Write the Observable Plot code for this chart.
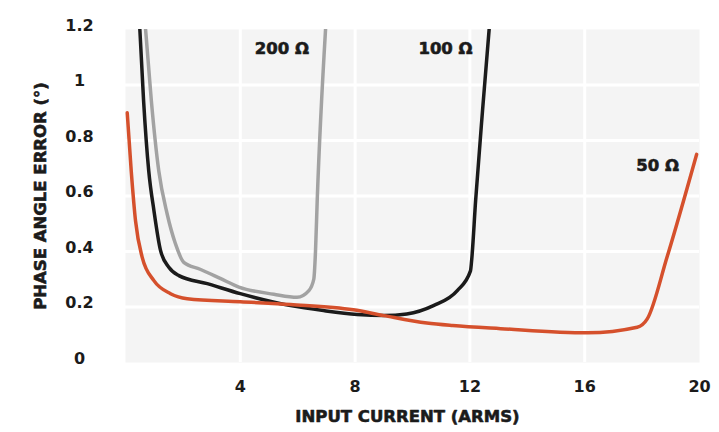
<!DOCTYPE html>
<html>
<head>
<meta charset="utf-8">
<script src="https://cdn.jsdelivr.net/npm/d3@7"></script>
<script src="https://cdn.jsdelivr.net/npm/@observablehq/plot@0.6"></script>
<style>
  html, body { margin: 0; padding: 0; background: #fff; }
  svg { display: block; }
</style>
</head>
<body>
<div id="chart"></div>
<script>
// ---- data ----
const series = ["50 Ω", "100 Ω", "200 Ω"];

const x50 = [0.06, 0.2, 0.35, 0.58, 0.99, 1.57, 2.15, 4.0, 5.75, 7.94, 9.0, 10.5, 11.4, 13.07, 16.1, 17.83, 18.18, 18.87, 19.9];
const y50 = [0.90, 0.69, 0.51, 0.38, 0.295, 0.248, 0.23, 0.219, 0.209, 0.19, 0.169, 0.142, 0.133, 0.122, 0.107, 0.127, 0.157, 0.38, 0.75];

const x100 = [0.5, 0.63, 0.81, 0.99, 1.22, 1.51, 1.86, 2.85, 4.0, 5.75, 6.9, 8.07, 9.0, 9.8, 10.73, 11.56, 12.02, 12.06, 12.2, 12.44, 12.67];
const y100 = [1.2, 0.944, 0.69, 0.548, 0.404, 0.343, 0.313, 0.284, 0.248, 0.205, 0.187, 0.173, 0.169, 0.175, 0.205, 0.259, 0.33, 0.367, 0.584, 0.908, 1.2];

const x200 = [0.7, 0.9, 1.16, 1.45, 1.74, 2.03, 2.6, 3.3, 3.95, 5.17, 5.98, 6.39, 6.56, 6.62, 6.68, 6.97];
const y200 = [1.2, 0.944, 0.69, 0.536, 0.428, 0.361, 0.336, 0.303, 0.272, 0.246, 0.235, 0.259, 0.30, 0.40, 0.584, 1.2];

const xTicks = [4, 8, 12, 16, 20];
const yTicks = [0, 0.2, 0.4, 0.6, 0.8, 1, 1.2];
const xGrid = [4, 8, 12, 16];
const yGrid = [0.2, 0.4, 0.6, 0.8, 1.0];

const labelText = ["200 Ω", "100 Ω", "50 Ω"];
const labelX = [5.45, 11.15, 18.54];
const labelY = [1.13, 1.13, 0.71];

const xTitle = "INPUT CURRENT (ARMS)";
const yTitle = "PHASE ANGLE ERROR (°)";

const colors = {"50 Ω": "#d5502c", "100 Ω": "#1b1b1b", "200 Ω": "#a2a2a2"};

// ---- build tables ----
const toRows = (name, xs, ys) => xs.map((x, i) => ({series: name, x, y: ys[i]}));
const rows = [
  ...toRows("200 Ω", x200, y200),
  ...toRows("100 Ω", x100, y100),
  ...toRows("50 Ω", x50, y50)
];
const labels = labelText.map((t, i) => ({t, x: labelX[i], y: labelY[i]}));

const font = "'DejaVu Sans', sans-serif";
const ink = "#1b1b1b";
const heavy = {fontWeight: "bold", fill: ink, stroke: ink, strokeWidth: 0.6};

const chart = Plot.plot({
  width: 719,
  height: 432,
  marginLeft: 125,
  marginRight: 20,
  marginTop: 29,
  marginBottom: 70,
  style: {fontFamily: font, fontWeight: "bold", fontSize: "15px", color: ink, background: "#fff"},
  x: {domain: [0, 20], ticks: xTicks},
  y: {domain: [0, 1.2], ticks: yTicks},
  marks: [
    Plot.frame({fill: "#f4f4f4", stroke: null}),
    Plot.gridX(xGrid, {stroke: "#fff", strokeOpacity: 1, strokeWidth: 3}),
    Plot.gridY(yGrid, {stroke: "#fff", strokeOpacity: 1, strokeWidth: 3}),
    Plot.axisX({ticks: xTicks, tickSize: 0, tickPadding: 18, label: null, fontSize: 16, fontWeight: "bold", stroke: ink, strokeWidth: 0.6}),
    Plot.axisY({ticks: yTicks, tickSize: 0, tickPadding: 46, textAnchor: "middle", dy: -4, label: null, fontSize: 16, fontWeight: "bold", stroke: ink, strokeWidth: 0.6, tickFormat: d => String(d)}),
    Plot.line(rows, {
      x: "x", y: "y", z: "series",
      stroke: d => colors[d.series],
      strokeWidth: 3.5,
      curve: "monotone-x",
      clip: true
    }),
    Plot.text(labels, {x: "x", y: "y", text: "t", fontSize: 16.5, ...heavy}),
    Plot.text([xTitle], {frameAnchor: "bottom", textAnchor: "middle", dy: 59, dx: -5, text: d => d, fontSize: 16.5, ...heavy}),
    Plot.text([yTitle], {frameAnchor: "left", textAnchor: "middle", dx: -85, text: d => d, rotate: -90, fontSize: 16.5, ...heavy})
  ]
});

document.getElementById("chart").appendChild(chart);
</script>
</body>
</html>
